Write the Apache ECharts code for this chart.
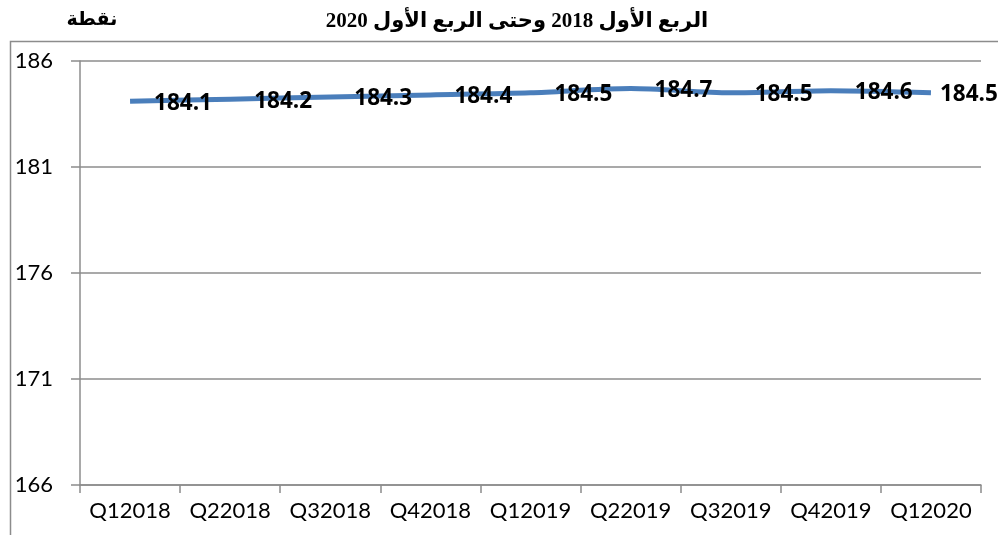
<!DOCTYPE html>
<html><head><meta charset="utf-8">
<script src="https://cdn.jsdelivr.net/npm/echarts@6/dist/echarts.min.js"></script>
<style>html,body{margin:0;padding:0;background:#fff}#c{width:998px;height:535px}</style>
</head><body><div id="c"></div>
<script>
const categories = ['Q12018','Q22018','Q32018','Q42018','Q12019','Q22019','Q32019','Q42019','Q12020'];
const values = [184.1, 184.2, 184.3, 184.4, 184.5, 184.7, 184.5, 184.6, 184.5];
const yTicks = {min:166, max:186, interval:5};
const titleText = 'الربع الأول 2018 وحتى الربع الأول 2020';
const unitText = 'نقطة';

const seriesData = values.map((v, i) => i === values.length - 1
  ? {value: v, label: {distance: 8}} : v);

const chart = echarts.init(document.getElementById('c'));
chart.setOption({
  backgroundColor:'#fff',
  animation:false,
  title:[
    {text:titleText, left:512, top:6, textAlign:'center',
     textStyle:{fontFamily:'Liberation Serif, DejaVu Sans', fontWeight:'bold', fontSize:21, color:'#000'}},
    {text:unitText, left:87, top:6, textAlign:'center',
     textStyle:{fontFamily:'Liberation Serif, DejaVu Sans', fontWeight:'bold', fontSize:19, color:'#000'}}
  ],
  graphic:[{type:'rect', shape:{x:10.5,y:41.5,width:1100,height:600},
    style:{fill:'none', stroke:'#8c8c8c', lineWidth:1.5}, silent:true}],
  grid:{left:80, right:17, top:61, bottom:50},
  xAxis:{type:'category', data:categories, boundaryGap:true,
    axisLine:{lineStyle:{color:'#8c8c8c', width:1.5}},
    axisTick:{show:true, length:8, interval:0, lineStyle:{color:'#8c8c8c', width:1.5}},
    axisLabel:{color:'#000', fontFamily:'Lato, Open Sans, sans-serif', fontSize:22, margin:15, interval:0}},
  yAxis:{type:'value', min:yTicks.min, max:yTicks.max, interval:yTicks.interval,
    axisLine:{show:true, lineStyle:{color:'#8c8c8c', width:1.5}},
    axisTick:{show:true, length:9, lineStyle:{color:'#8c8c8c', width:1.5}},
    splitLine:{lineStyle:{color:'#8c8c8c', width:1.5}},
    axisLabel:{color:'#000', fontFamily:'Lato, Open Sans, sans-serif', fontSize:22, margin:27}},
  series:[{type:'line', data:seriesData, smooth:0.3, showSymbol:true, symbol:'circle', symbolSize:2,
    itemStyle:{color:'rgba(74,126,187,0)'},
    lineStyle:{color:'#4a7ebb', width:5},
    label:{show:true, position:'right', distance:23, offset:[0,2],
      color:'#000', fontWeight:'bold', fontSize:22.5, fontFamily:'Open Sans, Liberation Sans, sans-serif',
      formatter:p=>p.value.toFixed(1)}}]
});
</script></body></html>
